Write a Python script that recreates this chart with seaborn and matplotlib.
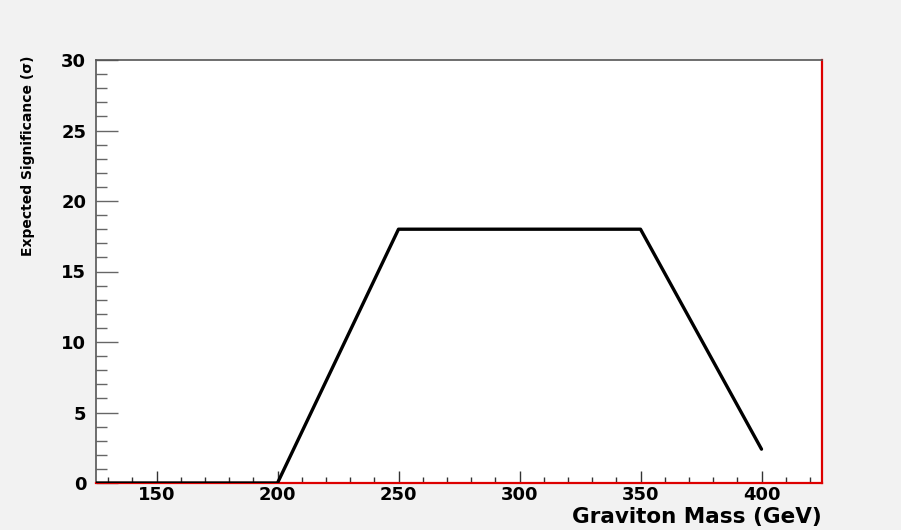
import numpy as np
import pandas as pd
import matplotlib
matplotlib.use("Agg")
import matplotlib.pyplot as plt
import seaborn as sns
from matplotlib.ticker import MultipleLocator

# Données : significance attendue vs masse du graviton
masses = [100, 150, 200, 250, 300, 350, 400]
significance = [0.0, 0.0, 0.0, 18.0, 18.0, 18.0, 2.4]

X_TICKS = [150, 200, 250, 300, 350, 400]
Y_TICKS = [0, 5, 10, 15, 20, 25, 30]

sns.set_theme(style="white")
plt.rcParams['font.family'] = ['DejaVu Sans']
plt.rcParams['text.color'] = 'black'
plt.rcParams['xtick.color'] = 'black'
plt.rcParams['ytick.color'] = 'black'

df = pd.DataFrame({"masse": masses, "signif": significance})

fig = plt.figure(figsize=(9.01, 5.30), dpi=100)
fig.patch.set_facecolor("#f2f2f2")
ax = fig.add_axes([96 / 901, 1 - 483 / 530, 726 / 901, 423 / 530])
ax.set_facecolor("white")

sns.lineplot(data=df, x="masse", y="signif", color="black", linewidth=2.4,
             ax=ax, zorder=4)

ax.set_xlim(125, 425)
ax.set_ylim(0, 30)
ax.set_xticks(X_TICKS)
ax.set_yticks(Y_TICKS)
ax.xaxis.set_minor_locator(MultipleLocator(10))
ax.yaxis.set_minor_locator(MultipleLocator(1))
ax.tick_params(axis="both", which="both", bottom=True, left=True,
               top=False, right=False, direction="in")
ax.tick_params(axis="both", which="major", width=1, labelcolor="black",
               labelsize=13)
ax.tick_params(axis="x", which="major", length=8.5, color="#333333", pad=2)
ax.tick_params(axis="x", which="minor", length=4.3, color="#333333", width=1)
ax.tick_params(axis="y", which="major", length=16, color="#666666", pad=7)
ax.tick_params(axis="y", which="minor", length=8, color="#666666", width=1)
for lab in ax.get_xticklabels() + ax.get_yticklabels():
    lab.set_fontweight("bold")

ax.set_xlabel("")
ax.set_ylabel("")

for side in ["left", "top"]:
    ax.spines[side].set_color("#555555")
    ax.spines[side].set_linewidth(1.2)
for side in ["bottom", "right"]:
    ax.spines[side].set_color("#dd0000")
    ax.spines[side].set_linewidth(1.6)

fig.text(822 / 901, 1 - 523 / 530, "Graviton Mass (GeV)", ha="right",
         va="baseline", fontsize=15.5, fontweight="bold", color="black")
fig.text(28 / 901, 1 - 56 / 530, "Expected Significance (σ)", rotation=90,
         ha="center", va="top", fontsize=10, fontweight="bold",
         color="black")

plt.savefig("out.png", dpi=100, facecolor=fig.get_facecolor())
plt.close()
